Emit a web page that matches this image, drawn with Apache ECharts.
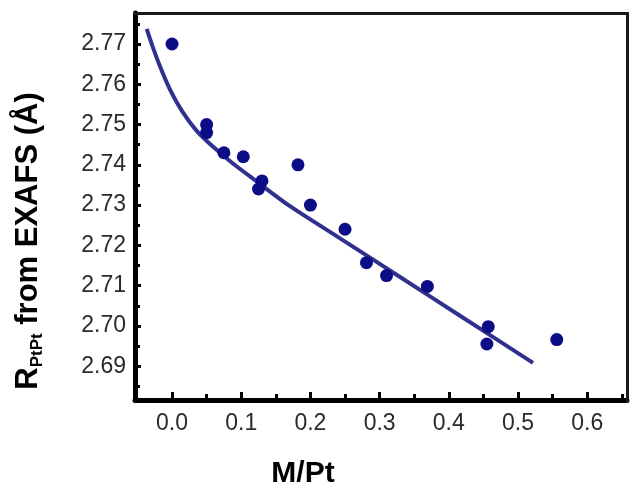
<!DOCTYPE html>
<html>
<head>
<meta charset="utf-8">
<script src="https://cdn.jsdelivr.net/npm/echarts@6/dist/echarts.min.js"></script>
<style>html,body{margin:0;padding:0;background:#fff}#c{width:641px;height:497px}</style>
</head>
<body>
<div id="c"></div>
<script>
// Measured points
const pointX = [0.0, 0.05, 0.05, 0.075, 0.103, 0.13, 0.125, 0.182, 0.2, 0.25, 0.281, 0.31, 0.369, 0.457, 0.455, 0.556];
const pointY = [2.770, 2.750, 2.748, 2.743, 2.742, 2.736, 2.734, 2.740, 2.730, 2.724, 2.7157, 2.7125, 2.7098, 2.6998, 2.6955, 2.6966];
// Fitted curve
const fitX = [-0.0366, -0.0289, -0.0173, -0.0029, 0.0145, 0.0347, 0.0578, 0.0867, 0.1214, 0.1705, 0.2428, 0.3295, 0.4162, 0.5217];
const fitY = [2.77373, 2.76978, 2.76441, 2.75870, 2.75333, 2.74863, 2.74473, 2.74051, 2.73599, 2.72973, 2.72175, 2.71214, 2.70252, 2.69082];
// Tick labels
const xTicks = [0.0, 0.1, 0.2, 0.3, 0.4, 0.5, 0.6];
const xMinor = [0.05, 0.15, 0.25, 0.35, 0.45, 0.55, 0.65];
const yTicks = [2.69, 2.70, 2.71, 2.72, 2.73, 2.74, 2.75, 2.76, 2.77];
const yMinor = [2.685, 2.695, 2.705, 2.715, 2.725, 2.735, 2.745, 2.755, 2.765, 2.775];

const xMin = -0.0535, xMax = 0.6575, yMin = 2.6816, yMax = 2.7777;
const chart = echarts.init(document.getElementById('c'), null, {renderer: 'canvas'});
const lblFont = {fontFamily: 'Liberation Sans, Arial, sans-serif', fontSize: 23, color: '#2a2a2a'};
chart.setOption({
  animation: false,
  grid: {left: 135, top: 13, right: 14, bottom: 97},
  xAxis: [{
    type: 'value', min: xMin, max: xMax, position: 'bottom',
    splitLine: {show: false},
    axisLine: {show: true, onZero: false, lineStyle: {color: '#000', width: 5}},
    axisTick: {show: true, inside: true, length: 8, customValues: xTicks, lineStyle: {color: '#000', width: 3}},
    axisLabel: Object.assign({customValues: xTicks, margin: 12, formatter: v => v.toFixed(1)}, lblFont)
  }, {
    type: 'value', min: xMin, max: xMax, position: 'bottom',
    splitLine: {show: false},
    axisLine: {show: false, onZero: false},
    axisTick: {show: true, inside: true, length: 6, customValues: xMinor, lineStyle: {color: '#000', width: 3}},
    axisLabel: {show: false}
  }],
  yAxis: [{
    type: 'value', min: yMin, max: yMax, position: 'left',
    splitLine: {show: false},
    axisLine: {show: true, onZero: false, lineStyle: {color: '#000', width: 5}},
    axisTick: {show: true, inside: true, length: 6, customValues: yTicks, lineStyle: {color: '#000', width: 3}},
    axisLabel: Object.assign({customValues: yTicks, margin: 9, formatter: v => v.toFixed(2)}, lblFont)
  }, {
    type: 'value', min: yMin, max: yMax, position: 'left',
    splitLine: {show: false},
    axisLine: {show: false, onZero: false},
    axisTick: {show: true, inside: true, length: 5, customValues: yMinor, lineStyle: {color: '#000', width: 3}},
    axisLabel: {show: false}
  }],
  series: [{
    type: 'line', smooth: 0.3, showSymbol: false, symbol: 'none',
    data: fitX.map((x, i) => [x, fitY[i]]),
    lineStyle: {color: '#30308e', width: 4}, z: 3
  }, {
    type: 'scatter', symbol: 'circle', symbolSize: 13,
    data: pointX.map((x, i) => [x, pointY[i]]),
    itemStyle: {color: '#0c0c86', opacity: 1}, z: 4
  }],
  graphic: [{
    type: 'rect', z: 100, silent: true,
    shape: {x: 133, y: 12, width: 496, height: 3},
    style: {fill: '#1a1a1a'}
  }, {
    type: 'rect', z: 100, silent: true,
    shape: {x: 626, y: 12, width: 3, height: 390},
    style: {fill: '#1a1a1a'}
  }, {
    type: 'text', x: 303, y: 474,
    style: {text: 'M/Pt', fontFamily: 'Liberation Sans, Arial, sans-serif', fontWeight: 'bold', fontSize: 30, fill: '#000', align: 'center', verticalAlign: 'middle'}
  }, {
    type: 'text', x: 28, y: 241, rotation: Math.PI / 2,
    style: {
      text: '{m|R}{s|PtPt}{m| from EXAFS (Å)}',
      align: 'center', verticalAlign: 'middle',
      rich: {
        m: {fontFamily: 'Liberation Sans, Arial, sans-serif', fontWeight: 'bold', fontSize: 31, fill: '#000', lineHeight: 36, verticalAlign: 'middle'},
        s: {fontFamily: 'Liberation Sans, Arial, sans-serif', fontWeight: 'bold', fontSize: 17, fill: '#000', lineHeight: 16, verticalAlign: 'bottom'}
      }
    }
  }]
});
</script>
</body>
</html>
